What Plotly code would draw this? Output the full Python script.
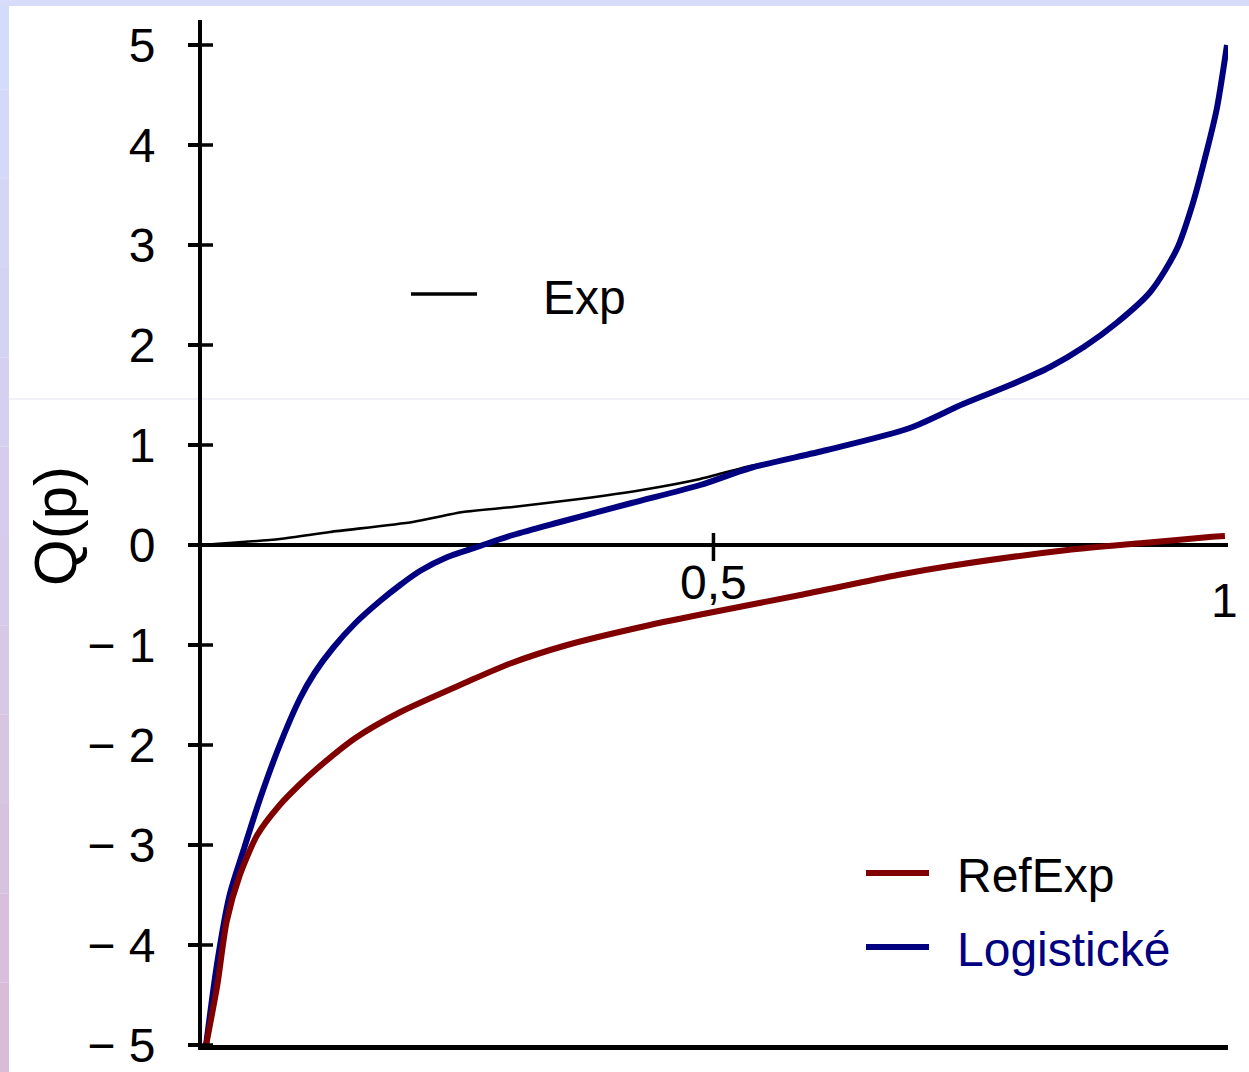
import plotly.graph_objects as go

# ---------------- data ----------------
p_logis = [0.004, 0.015, 0.027, 0.040, 0.057, 0.076, 0.096, 0.110, 0.128, 0.150,
           0.174, 0.195, 0.213, 0.240, 0.269, 0.304, 0.350, 0.420, 0.487, 0.536,
           0.611, 0.692, 0.744, 0.790, 0.829, 0.862, 0.894, 0.927, 0.953, 0.969,
           0.982, 0.992, 1.002]
q_logis = [-5.00, -4.17, -3.50, -3.07, -2.53, -2.00, -1.53, -1.28, -1.03, -0.78,
           -0.56, -0.39, -0.26, -0.12, -0.02, 0.10, 0.23, 0.42, 0.60, 0.77,
           0.95, 1.17, 1.41, 1.60, 1.78, 1.98, 2.22, 2.53, 2.96, 3.43,
           3.93, 4.36, 5.00]

p_refexp = [0.004, 0.015, 0.024, 0.037, 0.054, 0.076, 0.096, 0.112, 0.150, 0.194,
            0.259, 0.300, 0.357, 0.438, 0.500, 0.585, 0.680, 0.731, 0.846, 0.920,
            0.985, 1.000]
q_refexp = [-5.00, -4.40, -3.77, -3.30, -2.90, -2.60, -2.39, -2.24, -1.93, -1.67,
            -1.37, -1.19, -1.00, -0.80, -0.67, -0.50, -0.30, -0.21, -0.05, 0.02,
            0.08, 0.09]

p_exp = [0.000, 0.076, 0.125, 0.206, 0.255, 0.304, 0.369, 0.430, 0.487, 0.536, 0.560]
q_exp = [0.00, 0.06, 0.13, 0.23, 0.33, 0.38, 0.46, 0.55, 0.66, 0.79, 0.83]

y_tickvals = [5, 4, 3, 2, 1, 0, -1, -2, -3, -4, -5]
y_ticktext = ["5", "4", "3", "2", "1", "0", "\u2212 1", "\u2212 2", "\u2212 3", "\u2212 4", "\u2212 5"]
x_tickvals = [0.5, 1.0]
x_ticktext = ["0,5", "1"]

series_names = ["Exp", "RefExp", "Logistické"]

# ---------------- layout geometry ----------------
W, H = 1249, 1072
L, R, T, B = 202, 21, 20, 27
X_RANGE = [0, 1.003]
Y_RANGE = [-5, 5.25]
PW, PH = W - L - R, H - T - B

def px_x(px):
    return (px - L) / PW

def px_y(py):
    return (H - B - py) / PH

FONT = "Liberation Sans, Arial, sans-serif"
NAVY = "#000080"
MAROON = "#800000"

fig = go.Figure()
fig.add_trace(go.Scatter(x=p_exp, y=q_exp, mode="lines", name=series_names[0],
                         line=dict(color="black", width=2.6, shape="spline", smoothing=0.6)))
fig.add_trace(go.Scatter(x=p_logis, y=q_logis, mode="lines", name=series_names[2],
                         line=dict(color=NAVY, width=6, shape="spline", smoothing=0.8)))
fig.add_trace(go.Scatter(x=p_refexp, y=q_refexp, mode="lines", name=series_names[1],
                         line=dict(color=MAROON, width=6, shape="spline", smoothing=0.7)))

shapes = []
# lavender frame of the slide
n = 12
c0 = (212, 220, 252)
c1 = (216, 188, 216)
for i in range(n):
    t = i / (n - 1)
    col = tuple(round(c0[k] + (c1[k] - c0[k]) * t) for k in range(3))
    shapes.append(dict(type="rect", xref="paper", yref="paper",
                       x0=px_x(0), x1=px_x(9),
                       y0=px_y(H * (i + 1) / n), y1=px_y(H * i / n),
                       fillcolor="rgb(%d,%d,%d)" % col, line=dict(width=0), layer="above"))
shapes.append(dict(type="rect", xref="paper", yref="paper",
                   x0=px_x(0), x1=px_x(W), y0=px_y(6), y1=px_y(0),
                   fillcolor="rgb(214,220,250)", line=dict(width=0), layer="above"))
# faint scan seam
shapes.append(dict(type="line", xref="paper", yref="paper",
                   x0=px_x(9), x1=px_x(W), y0=px_y(399), y1=px_y(399),
                   line=dict(color="#e2e5f2", width=1), layer="below"))
# inner halves of the y ticks (crossing ticks)
for v in y_tickvals:
    shapes.append(dict(type="line", xref="x", yref="y", x0=0, x1=11 / (PW / (X_RANGE[1] - X_RANGE[0])),
                       y0=v, y1=v, line=dict(color="black", width=3.5)))
# x tick at 0.5 crossing the zero line
shapes.append(dict(type="line", xref="x", yref="y", x0=x_tickvals[0], x1=x_tickvals[0],
                   y0=0.12, y1=-0.16, line=dict(color="black", width=3.5)))

# legend samples
shapes.append(dict(type="line", xref="paper", yref="paper", x0=px_x(411), x1=px_x(477),
                   y0=px_y(294), y1=px_y(294), line=dict(color="black", width=3.5)))
shapes.append(dict(type="line", xref="paper", yref="paper", x0=px_x(866), x1=px_x(929),
                   y0=px_y(873), y1=px_y(873), line=dict(color=MAROON, width=6)))
shapes.append(dict(type="line", xref="paper", yref="paper", x0=px_x(866), x1=px_x(929),
                   y0=px_y(947), y1=px_y(947), line=dict(color=NAVY, width=6)))

annotations = [
    dict(text="Q(p)", xref="paper", yref="paper", x=px_x(55), y=px_y(526), textangle=-90,
         showarrow=False, xanchor="center", yanchor="middle",
         font=dict(family=FONT, size=60, color="black")),
    dict(text=x_ticktext[0], xref="x", yref="paper", x=x_tickvals[0], y=px_y(582),
         showarrow=False, xanchor="center", yanchor="middle",
         font=dict(family=FONT, size=48, color="black")),
    dict(text=x_ticktext[1], xref="x", yref="paper", x=x_tickvals[1], y=px_y(600),
         showarrow=False, xanchor="center", yanchor="middle",
         font=dict(family=FONT, size=48, color="black")),
    dict(text=series_names[0], xref="paper", yref="paper", x=px_x(541), y=px_y(297),
         showarrow=False, xanchor="left", yanchor="middle",
         font=dict(family=FONT, size=48, color="black")),
    dict(text=series_names[1], xref="paper", yref="paper", x=px_x(955), y=px_y(875),
         showarrow=False, xanchor="left", yanchor="middle",
         font=dict(family=FONT, size=48, color="black")),
    dict(text=series_names[2], xref="paper", yref="paper", x=px_x(955), y=px_y(949),
         showarrow=False, xanchor="left", yanchor="middle",
         font=dict(family=FONT, size=48, color=NAVY)),
]

fig.update_layout(
    width=W, height=H,
    margin=dict(l=L, r=R, t=T, b=B, pad=0, autoexpand=False),
    paper_bgcolor="white", plot_bgcolor="white",
    showlegend=False,
    font=dict(family=FONT, size=48, color="black"),
    xaxis=dict(range=X_RANGE, showgrid=False, zeroline=False, showline=True,
               linecolor="black", linewidth=5, ticks="", showticklabels=False,
               fixedrange=True, automargin=False),
    yaxis=dict(range=Y_RANGE, tickvals=y_tickvals, ticktext=y_ticktext,
               showgrid=False, zeroline=True, zerolinecolor="black", zerolinewidth=4,
               showline=True, linecolor="black", linewidth=4,
               ticks="outside", ticklen=10, tickwidth=3.5, tickcolor="black",
               ticklabelstandoff=23, automargin=False,
               tickfont=dict(family=FONT, size=48, color="black")),
    shapes=shapes,
    annotations=annotations,
)

fig.write_html("out.html")
